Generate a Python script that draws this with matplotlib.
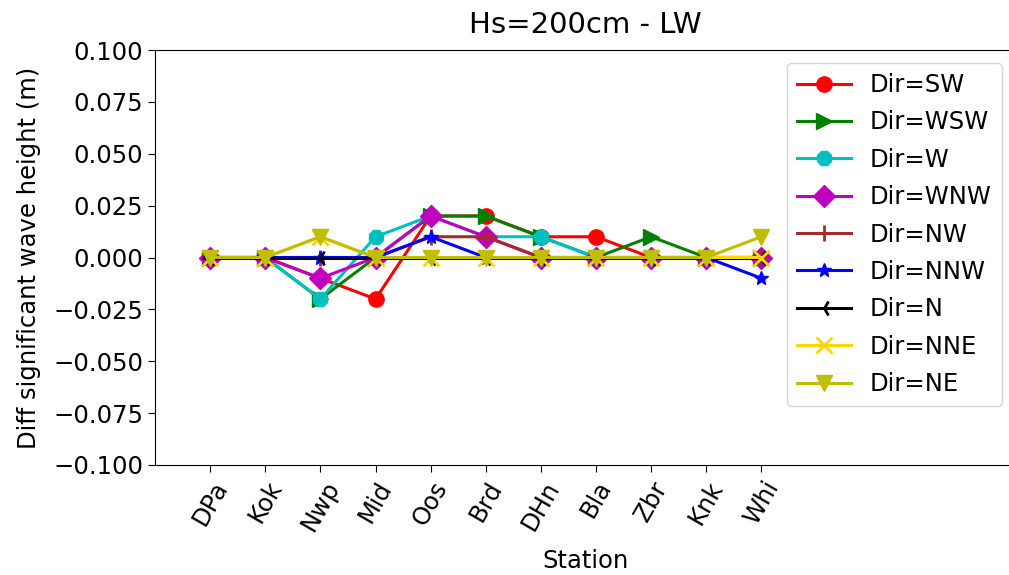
import matplotlib
matplotlib.use("Agg")
import matplotlib.pyplot as plt
import numpy as np

stations = ["DPa", "Kok", "Nwp", "Mid", "Oos", "Brd", "DHn", "Bla", "Zbr", "Knk", "Whi"]

diff_sw = [0.0, 0.0, -0.01, -0.02, 0.02, 0.02, 0.01, 0.01, 0.0, 0.0, 0.0]
diff_wsw = [0.0, 0.0, -0.02, 0.0, 0.02, 0.02, 0.01, 0.0, 0.01, 0.0, 0.0]
diff_w = [0.0, 0.0, -0.02, 0.01, 0.02, 0.01, 0.01, 0.0, 0.0, 0.0, 0.0]
diff_wnw = [0.0, 0.0, -0.01, 0.0, 0.02, 0.01, 0.0, 0.0, 0.0, 0.0, 0.0]
diff_nw = [0.0, 0.0, 0.0, 0.0, 0.01, 0.01, 0.0, 0.0, 0.0, 0.0, 0.0]
diff_nnw = [0.0, 0.0, 0.0, 0.0, 0.01, 0.0, 0.0, 0.0, 0.0, 0.0, -0.01]
diff_n = [0.0, 0.0, 0.0, 0.0, 0.0, 0.0, 0.0, 0.0, 0.0, 0.0, 0.0]
diff_nne = [0.0, 0.0, 0.01, 0.0, 0.0, 0.0, 0.0, 0.0, 0.0, 0.0, 0.0]
diff_ne = [0.0, 0.0, 0.01, 0.0, 0.0, 0.0, 0.0, 0.0, 0.0, 0.0, 0.01]

series = [
    ("Dir=SW", diff_sw, "red", "o"),
    ("Dir=WSW", diff_wsw, "green", ">"),
    ("Dir=W", diff_w, "c", "8"),
    ("Dir=WNW", diff_wnw, "m", "D"),
    ("Dir=NW", diff_nw, "brown", "+"),
    ("Dir=NNW", diff_nnw, "blue", "*"),
    ("Dir=N", diff_n, "black", "3"),
    ("Dir=NNE", diff_nne, "gold", "x"),
    ("Dir=NE", diff_ne, "y", "v"),
]

plt.rcParams["font.size"] = 17.5
plt.rcParams["xtick.major.size"] = 5
plt.rcParams["ytick.major.size"] = 5

fig = plt.figure(figsize=(10.09, 5.75), dpi=100)
# right spine sits just past the edge of the canvas
ax = fig.add_axes([155 / 1009, 1 - 465 / 575, 860 / 1009, (465 - 50) / 575])

x = np.arange(len(stations))
for label, vals, col, mk in series:
    ms = 11
    if mk == "*":
        ms = 10
    if mk in ("+", "x", "3"):
        ms = 12
    ax.plot(x, vals, color=col, marker=mk, markersize=ms, linewidth=2.2,
            markeredgewidth=2 if mk in ("+", "x", "3") else 1, label=label)

ax.set_xlim(-1, 14.6)
ax.set_ylim(-0.1, 0.1)
ax.set_yticks(np.arange(-0.1, 0.1001, 0.025))
ax.set_xticks(x)
ax.set_xticklabels(stations, rotation=60)
ax.set_xlabel("Station", labelpad=10)
ax.set_ylabel("Diff significant wave height (m)", labelpad=9)
ax.set_title("Hs=200cm - LW", pad=12)
ax.legend(loc="upper right", fontsize=17.5, labelspacing=0.55,
          handlelength=2.2, borderaxespad=0.55)

fig.savefig("out.png", dpi=100)
